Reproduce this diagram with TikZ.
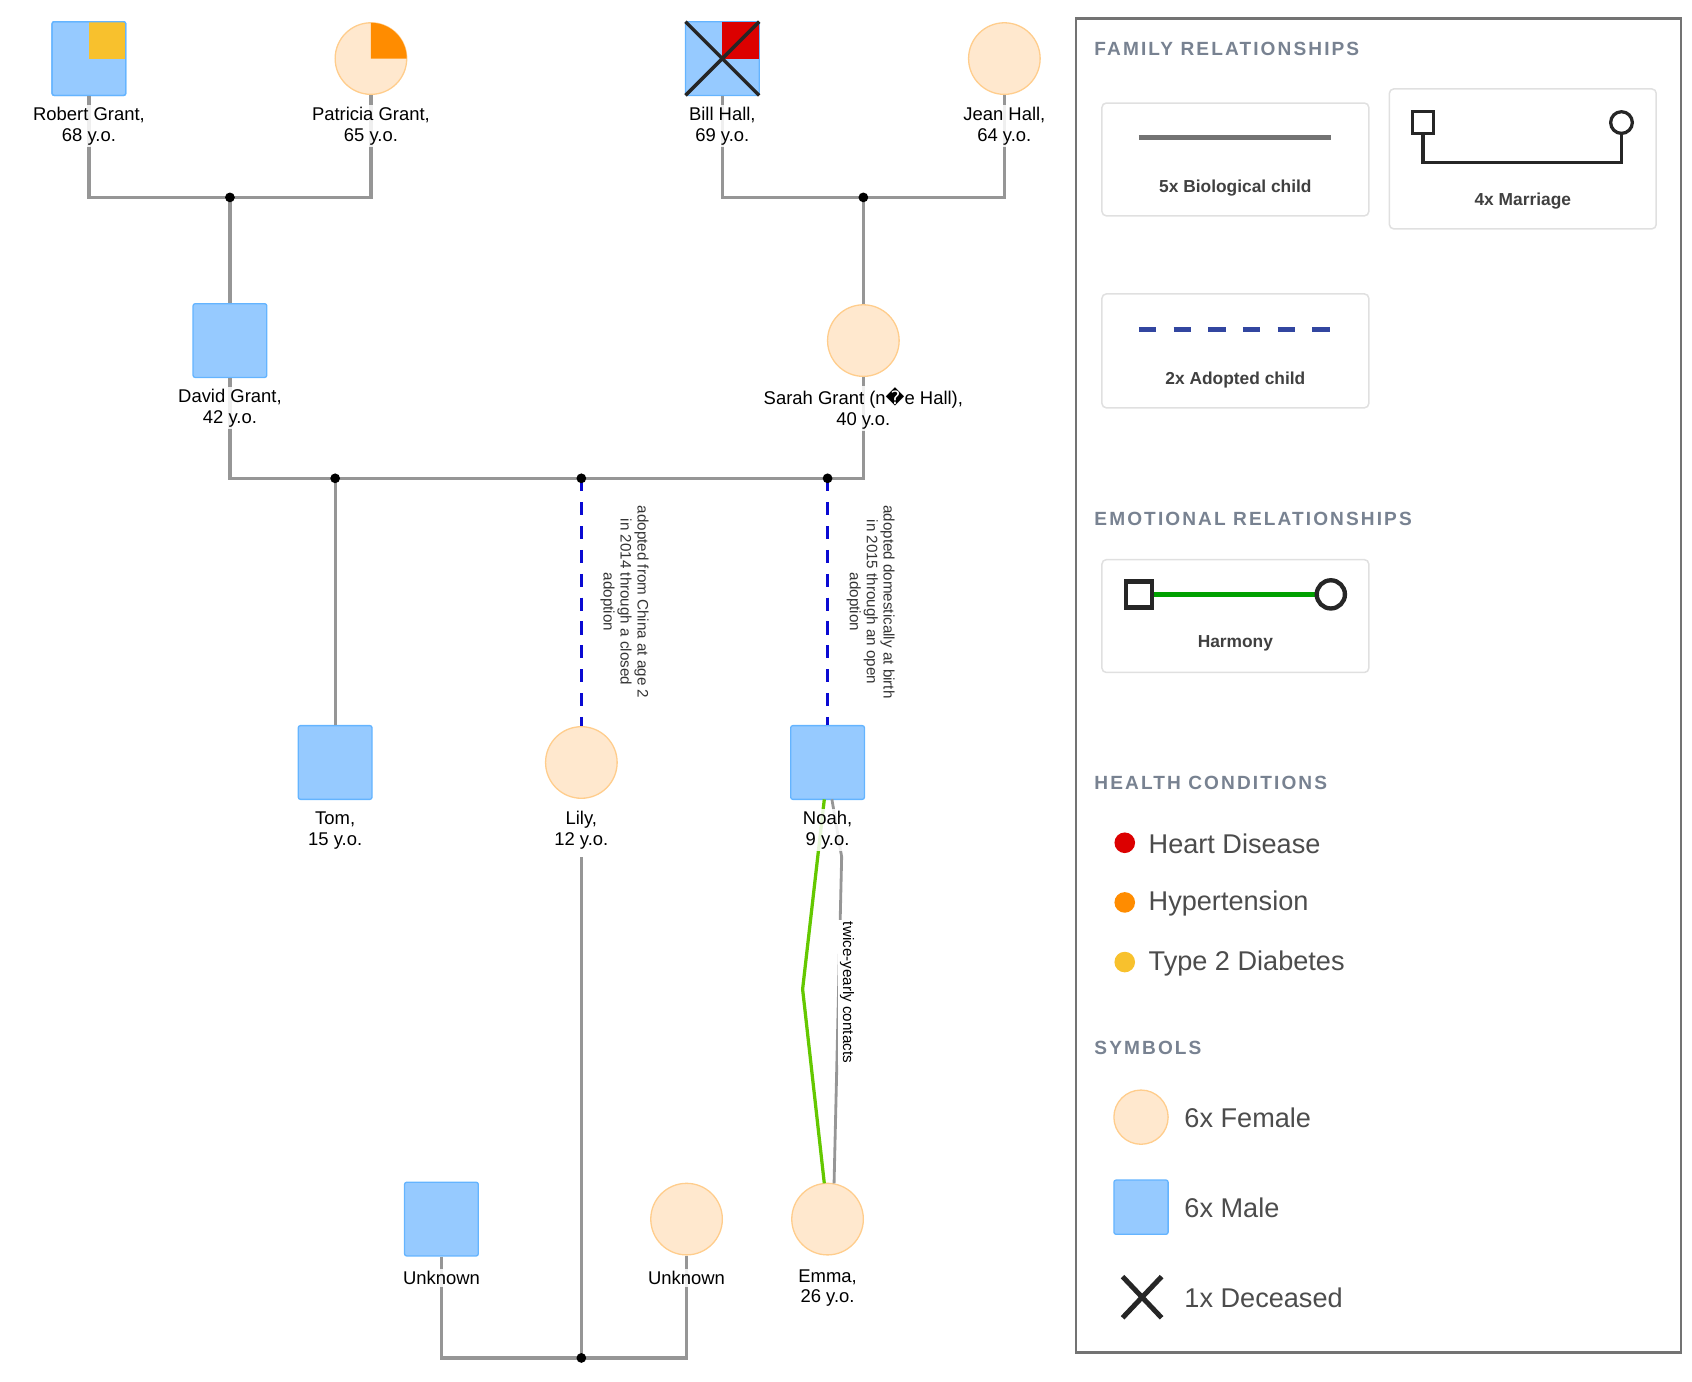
\documentclass[tikz,border=0pt]{standalone}
\usepackage{fontspec}
\setmainfont{Liberation Sans}
\newfontfamily\dejavu{DejaVu Sans}
\definecolor{mdraw}{RGB}{100,180,255}
\definecolor{mfill}{RGB}{150,202,255}
\definecolor{fdraw}{RGB}{255,205,140}
\definecolor{ffill}{RGB}{255,232,206}
\definecolor{relg}{RGB}{150,150,150}
\definecolor{adb}{RGB}{10,10,210}
\definecolor{headc}{RGB}{120,130,145}
\definecolor{diab}{RGB}{248,193,45}
\definecolor{hyp}{RGB}{255,140,0}
\definecolor{heart}{RGB}{220,0,0}
\definecolor{harm}{RGB}{100,200,0}
\definecolor{harmL}{RGB}{0,160,0}
\definecolor{adL}{RGB}{50,70,160}
\begin{document}
\begin{tikzpicture}[x=0.5pt,y=-0.5pt,
 male/.style={draw=mdraw,fill=mfill,minimum size=34pt,inner sep=0,rounded corners=1pt,line width=0.6pt},
 female/.style={circle,draw=fdraw,fill=ffill,minimum size=33pt,inner sep=0,line width=0.6pt},
 lab/.style={align=center,font=\fontsize{8.5}{9.5}\selectfont,fill=white,fill opacity=0.85,text opacity=1,inner sep=1pt},
 rel/.style={draw=relg,line width=1.5pt},
 adopt/.style={draw=adb,line width=1.5pt,dash pattern=on 6pt off 5pt},
 dot/.style={circle,fill=black,inner sep=0,minimum size=4.5pt},
 note/.style={font=\fontsize{7}{7.8}\selectfont,align=center,rotate=-90,text=black!80},
 head/.style={anchor=west,font=\fontsize{8.8}{10}\bfseries\addfontfeature{LetterSpace=11},text=headc},
 lbox/.style={draw=black!12,rounded corners=2pt,line width=0.7pt},
 lboxlab/.style={font=\fontsize{8}{9}\bfseries\selectfont,text=black!75},
 hc/.style={anchor=west,font=\fontsize{12.5}{14}\selectfont,text=black!70}]
\useasboundingbox (0,0) rectangle (1560,1274);
% ---- people ----
\node[male] (robert) at (82,54) {};
\fill[diab] (82,20) rectangle (116,54);
\draw[mdraw,line width=0.6pt,rounded corners=1pt] (48,20) rectangle (116,88);
\node[female] (patricia) at (342,54) {};
\fill[hyp] (342,54) -- (375,54) arc[start angle=0,end angle=-90,radius=33] -- cycle;
\node[male] (bill) at (666,54) {};
\fill[heart] (666,20) rectangle (700,54);
\draw[black!85,line width=1.6pt] (632,20) -- (700,88) (700,20) -- (632,88);
\node[female] (jean) at (926,54) {};
\node[male] (david) at (212,314) {};
\node[female] (sarah) at (796,314) {};
\node[male] (tom) at (309,703) {};
\node[female] (lily) at (536,703) {};
\node[male] (noah) at (763,703) {};
\node[male] (unkm) at (407,1124) {};
\node[female] (unkf) at (633,1124) {};
\node[female] (emma) at (763,1124) {};
% ---- junctions ----
\coordinate (m1) at (212,182); \coordinate (m2) at (796,182);
\coordinate (m3a) at (309,441); \coordinate (m3b) at (536,441); \coordinate (m3c) at (763,441);
\coordinate (m4) at (536,1252);
% ---- lines ----
\draw[rel] (robert.south) |- (m1) -| (patricia.south);
\draw[rel] (bill.south) |- (m2) -| (jean.south);
\draw[rel] (m1) -- (david.north);
\draw[rel] (m2) -- (sarah.north);
\draw[rel] (david.south) |- (m3a) -- (m3c) -| (sarah.south);
\draw[rel] (m3a) -- (tom.north);
\draw[adopt] (m3b) -- (lily.north);
\draw[adopt] (m3c) -- (noah.north);
\draw[rel] (unkm.south) |- (m4) -| (unkf.south);
\coordinate (lilyb) at (536,790);
\draw[rel] (m4) -- (lilyb);
\coordinate (gk) at (740,912);
\draw[draw=harm,line width=1.5pt] (760,737) -- (gk) -- (760,1091);
\draw[rel,line width=1.3pt] (767,737) -- (776,790) -- (769,1091);
\node[font=\fontsize{7}{8}\selectfont,rotate=-90,fill=white,inner sep=1pt] (tw) at (781,915) {twice-yearly contacts};
\foreach \d in {m1,m2,m3a,m3b,m3c,m4} \node[dot] at (\d) {};
% ---- labels ----
\node[lab] (lrobert) at (82,116.5) {Robert Grant,\\68 y.o.};
\node[lab] (lpat) at (342,116.5) {Patricia Grant,\\65 y.o.};
\node[lab] (lbill) at (666,116.5) {Bill Hall,\\69 y.o.};
\node[lab] (ljean) at (926,116.5) {Jean Hall,\\64 y.o.};
\node[lab] (ldavid) at (212,376.5) {David Grant,\\42 y.o.};
\node[lab] (lsarah) at (796,376.5) {Sarah Grant (n{\dejavu\char"FFFD}e Hall),\\40 y.o.};
\node[lab] (ltom) at (309,765.5) {Tom,\\15 y.o.};
\node[lab] (llily) at (536,765.5) {Lily,\\12 y.o.};
\node[lab] (lnoah) at (763,765.5) {Noah,\\9 y.o.};
\node[lab] (lum) at (407,1178) {Unknown};
\node[lab] (luf) at (633,1178) {Unknown};
\node[lab] (lemma) at (763,1187.5) {Emma,\\26 y.o.};
\node[note,anchor=north] (n1) at (605,555) {adopted from China at age 2\\in 2014 through a closed\\adoption};
\node[note,anchor=north] (n2) at (832,555) {adopted domestically at birth\\in 2015 through an open\\adoption};
% ---- legend ----
\draw[black!55,line width=1pt] (992,17) rectangle (1550,1247);
\node[head] (h1) at (1002,45) {FAMILY RELATIONSHIPS};
\node[head] (h2) at (1002,478) {EMOTIONAL RELATIONSHIPS};
\node[head] (h3) at (1002,722) {HEALTH CONDITIONS};
\node[head] (h4) at (1002,966) {SYMBOLS};
\draw[lbox] (1016,95) rectangle (1262,199);
\draw[draw=black!55,line width=2.2pt] (1050,127) -- (1227,127);
\node[lboxlab] at (1139,173) {5x Biological child};
\draw[lbox] (1281,82) rectangle (1527,211);
\draw[black!85,line width=1.5pt] (1312,123) -- (1312,150) -| (1495,123);
\draw[black!85,line width=1.5pt,fill=white] (1302,103) rectangle (1322,123);
\draw[black!85,line width=1.5pt,fill=white] (1495,113) circle[radius=10];
\node[lboxlab] at (1404,185) {4x Marriage};
\draw[lbox] (1016,271) rectangle (1262,376);
\draw[draw=adL,line width=2.2pt,dash pattern=on 8pt off 8pt] (1050,304) -- (1227,304);
\node[lboxlab] at (1139,350) {2x Adopted child};
\draw[lbox] (1016,516) rectangle (1262,620);
\draw[draw=harmL,line width=2.2pt] (1050,548) -- (1227,548);
\draw[black!85,line width=2pt,fill=white] (1038,536) rectangle (1062,560);
\draw[black!85,line width=2pt,fill=white] (1227,548) circle[radius=13];
\node[lboxlab] at (1139,593) {Harmony};
\fill[heart] (1037,777) circle[radius=9.5];
\node[hc] at (1052,778) {Heart Disease};
\fill[hyp] (1037,832) circle[radius=9.5];
\node[hc] at (1052,833) {Hypertension};
\fill[diab] (1037,887) circle[radius=9.5];
\node[hc] at (1052,888) {Type 2 Diabetes};
\node[female,minimum size=25pt] (sf) at (1052,1030) {};
\node[hc] at (1085,1031) {6x Female};
\node[male,minimum size=25pt] (sm) at (1052,1113) {};
\node[hc] at (1085,1114) {6x Male};
\draw[black!85,line width=2.3pt] (1035,1177) -- (1071,1215) (1071,1177) -- (1035,1215);
\node[hc] at (1085,1197) {1x Deceased};
\end{tikzpicture}
\end{document}
